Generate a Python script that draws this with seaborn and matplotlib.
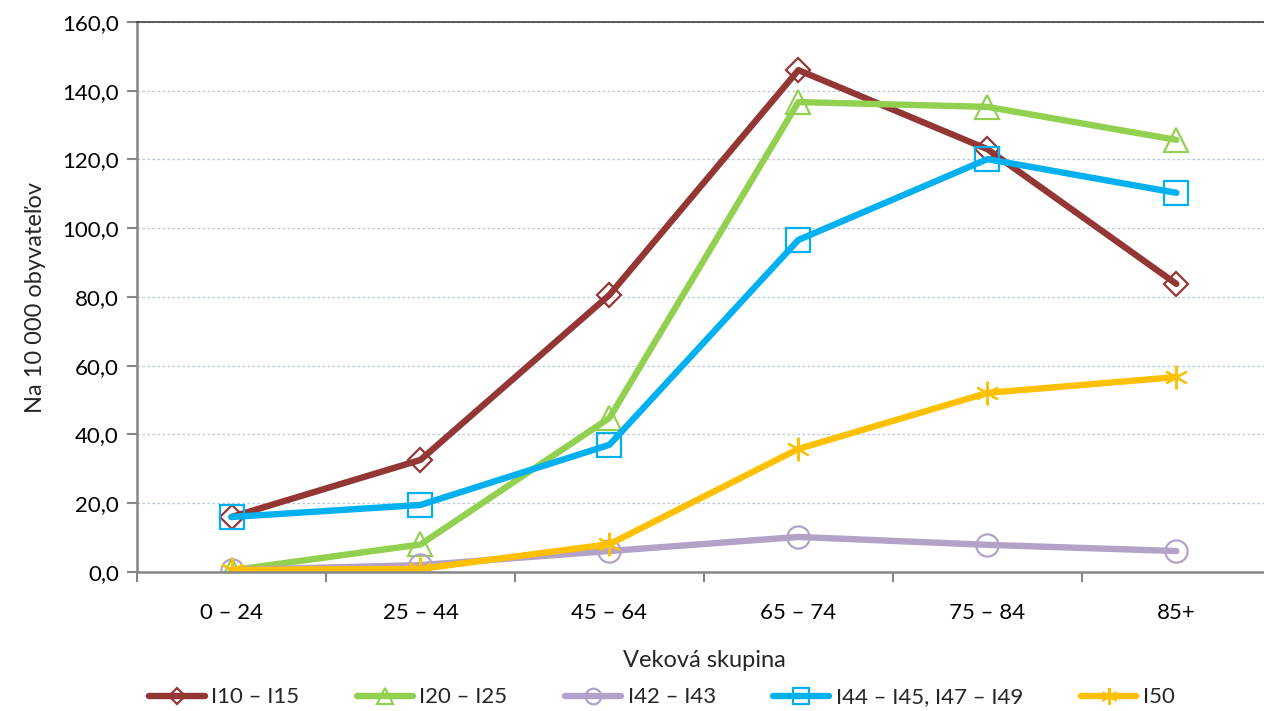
import numpy as np
import pandas as pd
import matplotlib
matplotlib.use('Agg')
import matplotlib.pyplot as plt
from matplotlib.ticker import FuncFormatter, FixedLocator
import seaborn as sns

# data
age_groups = ['0 – 24', '25 – 44', '45 – 64', '65 – 74', '75 – 84', '85+']
i10_i15 = [16.0, 32.6, 80.6, 146.0, 123.0, 83.8]
i20_i25 = [0.5, 8.0, 44.8, 136.7, 135.3, 125.7]
i42_i43 = [0.6, 2.0, 6.1, 10.2, 7.9, 6.1]
i44_i49 = [16.0, 19.5, 37.0, 96.6, 120.1, 110.3]
i50 = [0.6, 0.9, 8.1, 35.8, 52.1, 56.7]

series_names = ['I10 – I15', 'I20 – I25', 'I42 – I43', 'I44 – I45, I47 – I49', 'I50']
series_vals = [i10_i15, i20_i25, i42_i43, i44_i49, i50]
colors = ['#943634', '#92D050', '#B3A2C7', '#00B0F0', '#FFC000']
markers = ['D', '^', 'o', 's', '*']
msizes = [12, 17, 16, 17, 17]

sns.set_theme(style='white')
plt.rcParams['font.family'] = ['Lato', 'DejaVu Sans']

fig = plt.figure(figsize=(12.64, 7.11), dpi=100)
ax = fig.add_axes([0.1084, 0.1955, 0.897, 0.7736])

for name, vals, c, m, ms in zip(series_names, series_vals, colors, markers, msizes):
    df = pd.DataFrame({'x': np.arange(len(age_groups)), 'y': vals})
    if m == '*':
        sns.lineplot(data=df, x='x', y='y', ax=ax, color=c, linewidth=4.6, label=name,
                     marker=(6, 2, 0), markersize=ms, markeredgecolor=c, markeredgewidth=1.5,
                     solid_capstyle='round', solid_joinstyle='round')
    else:
        sns.lineplot(data=df, x='x', y='y', ax=ax, color=c, linewidth=4.6, label=name,
                     marker=m, markersize=ms, markerfacecolor='none', markeredgecolor=c,
                     markeredgewidth=1.6, solid_capstyle='round', solid_joinstyle='round')

ax.set_xlim(-0.5, len(age_groups) - 0.5)
ax.set_ylim(0, 160)
ax.set_yticks(np.arange(0, 161, 20))
ax.yaxis.set_major_formatter(FuncFormatter(lambda v, p: f'{v:.1f}'.replace('.', ',')))
ax.set_xticks(np.arange(len(age_groups)))
ax.set_xticklabels(age_groups)
ax.xaxis.set_minor_locator(FixedLocator(np.arange(-0.5, len(age_groups), 1)))
ax.tick_params(axis='x', which='major', length=0, pad=22, labelsize=16, colors='black')
ax.tick_params(axis='x', which='minor', length=7, width=1.5, color='#868686', direction='out', bottom=True)
ax.tick_params(axis='y', length=7, width=1.5, color='#868686', direction='out', left=True,
               labelsize=16, labelcolor='black', pad=6)

ax.grid(axis='y', color='#B9C7DD', linestyle=(0, (2, 2)), linewidth=0.9)
ax.set_axisbelow(True)
for s in ['left', 'bottom']:
    ax.spines[s].set_color('#868686')
    ax.spines[s].set_linewidth(1.8)
ax.spines['top'].set_color('#404040')
ax.spines['top'].set_linewidth(1.2)
ax.spines['right'].set_visible(False)

ax.set_xlabel('Veková skupina', fontsize=17, labelpad=20)
ax.set_ylabel('Na 10 000 obyvateľov', fontsize=17, labelpad=12)

ax.legend(loc='center', bbox_to_anchor=(0.463, -0.228), ncol=5, frameon=False,
          fontsize=16, handlelength=2.5, columnspacing=2.6, handletextpad=0.3,
          markerscale=0.7, borderaxespad=0, borderpad=0)

fig.savefig('out.png', dpi=100)
